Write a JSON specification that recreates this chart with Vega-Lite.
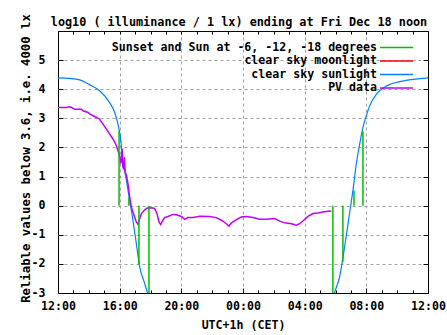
{
  "$schema": "https://vega.github.io/schema/vega-lite/v6.json",
  "width": 370,
  "height": 262,
  "autosize": "none",
  "padding": {"left": 58, "top": 31, "right": 19, "bottom": 42},
  "title": {"text": "log10 ( illuminance / 1 lx) ending at Fri Dec 18 noon", "font": "DejaVu Sans Mono", "fontSize": 11.8, "fontWeight": "bold", "color": "#000", "anchor": "middle", "frame": "group", "offset": -15, "dx": -4},
  "config": {
    "view": {"stroke": "#000", "strokeWidth": 1},
    "font": "DejaVu Sans Mono"
  },
  "datasets": {
    "blue": [
      {"seg": "e", "t": 0, "v": 4.39}, {"seg": "e", "t": 0.7, "v": 4.37}, {"seg": "e", "t": 1.41, "v": 4.32}, {"seg": "e", "t": 2.06, "v": 4.15},
      {"seg": "e", "t": 2.7, "v": 3.95}, {"seg": "e", "t": 3.35, "v": 3.54}, {"seg": "e", "t": 3.68, "v": 3.2}, {"seg": "e", "t": 3.89, "v": 2.8},
      {"seg": "e", "t": 4.05, "v": 2.35}, {"seg": "e", "t": 4.18, "v": 1.66}, {"seg": "e", "t": 4.44, "v": 0.86}, {"seg": "e", "t": 4.65, "v": 0.18},
      {"seg": "e", "t": 4.86, "v": -0.5}, {"seg": "e", "t": 5.08, "v": -1.3}, {"seg": "e", "t": 5.3, "v": -2.1}, {"seg": "e", "t": 5.62, "v": -2.67},
      {"seg": "e", "t": 5.8, "v": -3.0}, {"seg": "e", "t": 6.0, "v": -3.5},
      {"seg": "m", "t": 17.7, "v": -3.6}, {"seg": "m", "t": 17.94, "v": -3.0}, {"seg": "m", "t": 18.27, "v": -2.44}, {"seg": "m", "t": 18.59, "v": -1.42},
      {"seg": "m", "t": 18.91, "v": -0.27}, {"seg": "m", "t": 19.13, "v": 0.52}, {"seg": "m", "t": 19.35, "v": 1.44}, {"seg": "m", "t": 19.57, "v": 2.12},
      {"seg": "m", "t": 19.78, "v": 2.69}, {"seg": "m", "t": 20.0, "v": 3.09}, {"seg": "m", "t": 20.21, "v": 3.42}, {"seg": "m", "t": 20.65, "v": 3.83},
      {"seg": "m", "t": 21.3, "v": 4.11}, {"seg": "m", "t": 22.35, "v": 4.28}, {"seg": "m", "t": 24, "v": 4.39}
    ],
    "pv": [
      {"t": 0, "v": 3.37}, {"t": 0.6, "v": 3.37}, {"t": 0.7, "v": 3.4}, {"t": 0.85, "v": 3.38}, {"t": 1.08, "v": 3.31}, {"t": 1.52, "v": 3.31},
      {"t": 1.62, "v": 3.26}, {"t": 1.95, "v": 3.2}, {"t": 2.06, "v": 3.15}, {"t": 2.27, "v": 3.09}, {"t": 2.5, "v": 3.03}, {"t": 2.7, "v": 2.97},
      {"t": 2.92, "v": 2.8}, {"t": 3.14, "v": 2.63}, {"t": 3.35, "v": 2.46}, {"t": 3.57, "v": 2.29}, {"t": 3.79, "v": 2.06}, {"t": 3.89, "v": 1.89},
      {"t": 4.0, "v": 1.72}, {"t": 4.07, "v": 1.45}, {"t": 4.12, "v": 1.6}, {"t": 4.16, "v": 1.95}, {"t": 4.2, "v": 1.35}, {"t": 4.26, "v": 1.25},
      {"t": 4.31, "v": 1.66}, {"t": 4.36, "v": 1.15}, {"t": 4.44, "v": 1.04}, {"t": 4.54, "v": 0.75}, {"t": 4.6, "v": 0.52}, {"t": 4.65, "v": 0.29},
      {"t": 4.76, "v": -0.05}, {"t": 4.86, "v": -0.22}, {"t": 4.97, "v": -0.39}, {"t": 5.08, "v": -0.56}, {"t": 5.19, "v": -0.64}, {"t": 5.3, "v": -0.44},
      {"t": 5.41, "v": -0.27}, {"t": 5.62, "v": -0.14}, {"t": 5.8, "v": -0.08}, {"t": 5.95, "v": -0.07}, {"t": 6.16, "v": -0.08}, {"t": 6.27, "v": -0.1},
      {"t": 6.42, "v": -0.27}, {"t": 6.55, "v": -0.56}, {"t": 6.66, "v": -0.65}, {"t": 6.81, "v": -0.5}, {"t": 6.92, "v": -0.41}, {"t": 7.13, "v": -0.37},
      {"t": 7.46, "v": -0.3}, {"t": 7.68, "v": -0.31}, {"t": 8.0, "v": -0.37}, {"t": 8.22, "v": -0.47}, {"t": 8.43, "v": -0.41}, {"t": 8.76, "v": -0.41},
      {"t": 9.19, "v": -0.36}, {"t": 9.84, "v": -0.37}, {"t": 10.27, "v": -0.41}, {"t": 10.6, "v": -0.5}, {"t": 10.92, "v": -0.62}, {"t": 11.09, "v": -0.7},
      {"t": 11.25, "v": -0.59}, {"t": 11.57, "v": -0.48}, {"t": 11.89, "v": -0.39}, {"t": 12.22, "v": -0.37}, {"t": 12.65, "v": -0.41}, {"t": 13.08, "v": -0.47},
      {"t": 13.51, "v": -0.47}, {"t": 14.05, "v": -0.44}, {"t": 14.38, "v": -0.53}, {"t": 14.7, "v": -0.59}, {"t": 15.14, "v": -0.62}, {"t": 15.46, "v": -0.67},
      {"t": 15.68, "v": -0.62}, {"t": 15.94, "v": -0.5}, {"t": 16.21, "v": -0.37}, {"t": 16.54, "v": -0.27}, {"t": 16.86, "v": -0.25}, {"t": 17.19, "v": -0.22},
      {"t": 17.62, "v": -0.18}, {"t": 17.73, "v": -0.2}
    ],
    "sun": [
      {"t": 3.96, "v": 2.57}, {"t": 4.6, "v": 0.29}, {"t": 5.25, "v": -2.04}, {"t": 5.9, "v": -3.5},
      {"t": 17.83, "v": -3.5}, {"t": 18.48, "v": -1.93}, {"t": 19.2, "v": 0.52}, {"t": 19.78, "v": 2.55}
    ]
  },
  "resolve": {"axis": {"x": "independent", "y": "independent"}},
  "layer": [
    {
      "data": {"name": "blue"},
      "mark": {"type": "line", "clip": true, "strokeWidth": 1.2, "interpolate": "monotone"},
      "encoding": {
        "x": {
          "field": "t", "type": "quantitative",
          "scale": {"domain": [0, 24], "nice": false, "zero": false},
          "axis": {
            "orient": "bottom", "values": [0, 4, 8, 12, 16, 20, 24],
            "labelExpr": "((datum.value + 12) % 24 < 10 ? '0' : '') + ((datum.value + 12) % 24) + ':00'",
            "title": "UTC+1h (CET)", "titleFont": "DejaVu Sans Mono", "titleFontSize": 11.6, "titleFontWeight": "bold", "titleColor": "#000",
            "titleY": 32, "titleBaseline": "middle",
            "grid": true, "gridColor": "#a0a0a0", "gridDash": [3, 3], "gridWidth": 1,
            "gridOpacity": {"condition": {"test": "datum.value == 0 || datum.value == 24", "value": 0}, "value": 1},
            "tickSize": -5, "tickColor": "#000", "domain": false,
            "labelPadding": 12, "labelFlush": false, "labelOverlap": false, "labelBound": false,
            "labelFont": "DejaVu Sans Mono", "labelFontSize": 11.6, "labelFontWeight": "bold", "labelColor": "#000", "labelBaseline": "top"
          }
        },
        "y": {
          "field": "v", "type": "quantitative",
          "scale": {"domain": [-3, 6], "nice": false, "zero": false},
          "axis": {
            "orient": "left", "values": [-3, -2, -1, 0, 1, 2, 3, 4, 5],
            "labelExpr": "'' + datum.value",
            "title": "Reliable values below 3.6, i.e. 4000 lx", "titleFont": "DejaVu Sans Mono", "titleFontSize": 12.3, "titleFontWeight": "bold", "titleColor": "#000",
            "titleX": -33, "titleY": 127, "titleAngle": 270, "titleBaseline": "middle", "titleAlign": "center",
            "grid": true, "gridColor": "#a0a0a0", "gridDash": [3, 3], "gridWidth": 1,
            "gridOpacity": {"condition": {"test": "datum.value == -3", "value": 0}, "value": 1},
            "tickSize": -5, "tickColor": "#000", "domain": false,
            "labelPadding": 18, "labelOverlap": false, "labelBound": false, "labelFlush": false,
            "labelFont": "DejaVu Sans Mono", "labelFontSize": 11.6, "labelFontWeight": "bold", "labelColor": "#000", "labelAlign": "right", "labelBaseline": "middle"
          }
        },
        "detail": {"field": "seg"},
        "color": {
          "datum": "clear sky sunlight",
          "scale": {
            "domain": ["Sunset and Sun at -6, -12, -18 degrees", "clear sky moonlight", "clear sky sunlight", "PV data"],
            "range": ["#00c000", "#ff0000", "#0080ff", "#c000ff"]
          },
          "legend": {
            "orient": "none", "legendX": 332, "legendY": 10, "title": null,
            "symbolType": "M-3,0H3", "symbolSize": 121, "symbolStrokeWidth": 1.5,
            "labelAlign": "right", "labelOffset": -26, "labelLimit": 0,
            "labelFont": "DejaVu Sans Mono", "labelFontSize": 11.6, "labelFontWeight": "bold", "labelColor": "#000",
            "rowPadding": 0.5, "padding": 0
          }
        }
      }
    },
    {
      "data": {"name": "pv"},
      "mark": {"type": "line", "clip": true, "strokeWidth": 1.5},
      "encoding": {
        "x": {
          "field": "t", "type": "quantitative",
          "axis": {"orient": "top", "values": [0,1,2,3,4,5,6,7,8,9,10,11,12,13,14,15,16,17,18,19,20,21,22,23,24], "labels": false, "title": null, "grid": false, "domain": false, "tickSize": -3, "tickColor": "#000"}
        },
        "y": {
          "field": "v", "type": "quantitative",
          "axis": {"orient": "right", "values": [-3, -2, -1, 0, 1, 2, 3, 4, 5], "labels": false, "title": null, "grid": false, "domain": false, "tickSize": -5, "tickColor": "#000"}
        },
        "color": {"datum": "PV data"}
      }
    },
    {
      "data": {"name": "sun"},
      "mark": {"type": "rule", "clip": true, "strokeWidth": 1.5},
      "encoding": {
        "x": {
          "field": "t", "type": "quantitative",
          "axis": {"orient": "bottom", "values": [0,1,2,3,4,5,6,7,8,9,10,11,12,13,14,15,16,17,18,19,20,21,22,23,24], "labels": false, "title": null, "grid": false, "domain": false, "tickSize": -3, "tickColor": "#000"}
        },
        "y": {"field": "v", "type": "quantitative", "axis": null},
        "y2": {"datum": 0},
        "color": {"datum": "Sunset and Sun at -6, -12, -18 degrees"}
      }
    }
  ]
}
